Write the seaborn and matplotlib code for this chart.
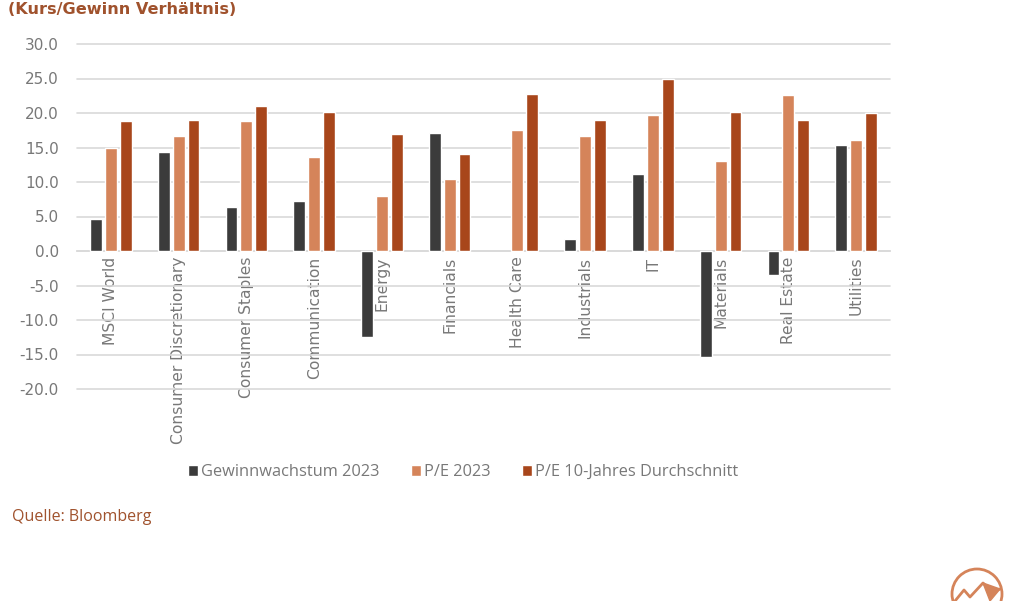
import numpy as np
import pandas as pd
import matplotlib.pyplot as plt
import matplotlib.patches as mpatches
import seaborn as sns

# Daten
sectors = ["MSCI World", "Consumer Discretionary", "Consumer Staples", "Communication",
           "Energy", "Financials", "Health Care", "Industrials", "IT", "Materials",
           "Real Estate", "Utilities"]
growth_2023 = [4.6, 14.4, 6.4, 7.3, -12.5, 17.1, np.nan, 1.8, 11.1, -15.3, -3.5, 15.4]
pe_2023 = [15.0, 16.7, 18.8, 13.6, 8.0, 10.5, 17.5, 16.6, 19.7, 13.0, 22.6, 16.1]
pe_10y = [18.8, 19.0, 21.0, 20.1, 17.0, 14.0, 22.8, 19.0, 25.0, 20.1, 19.0, 20.0]
series_names = ["Gewinnwachstum 2023", "P/E 2023", "P/E 10-Jahres Durchschnitt"]
y_ticks = [-20, -15, -10, -5, 0, 5, 10, 15, 20, 25, 30]

colors = ["#3b3b3b", "#d5845a", "#a8461b"]
brown = "#a0522d"
grey_text = "#787878"

df = pd.DataFrame({
    "sector": sectors * 3,
    "value": growth_2023 + pe_2023 + pe_10y,
    "series": [s for s in series_names for _ in sectors],
})

sns.set_theme(style="white")
# Achsenbeschriftungen in DejaVu (breiter, wie im Original)
plt.rcParams["font.family"] = ["DejaVu Sans"]

W, H = 1016, 601
fig = plt.figure(figsize=(W / 100, H / 100), dpi=100)
ax = fig.add_axes([77 / W, 1 - 389 / H, (890 - 77) / W, (389 - 44) / H])

sns.barplot(data=df, x="sector", y="value", hue="series", hue_order=series_names,
            order=sectors, palette=colors, width=0.66, gap=0.2, saturation=1,
            errorbar=None, ax=ax, legend=True, zorder=3)

ax.set_ylim(-20, 30)
ax.set_xlim(-0.5, len(sectors) - 0.5)
ax.set_yticks(y_ticks)
ax.set_yticklabels([f"{v:.1f}" for v in y_ticks])
for v in y_ticks:
    ax.axhline(v, color="#d9d9d9", linewidth=1.2, zorder=1, clip_on=False)

for s in ["top", "right", "left"]:
    ax.spines[s].set_visible(False)
ax.spines["bottom"].set_position(("data", 0))
ax.spines["bottom"].set_color("#d9d9d9")
ax.spines["bottom"].set_linewidth(1.2)

ax.tick_params(axis="y", length=0, pad=13, labelsize=11, labelcolor=grey_text)
ax.tick_params(axis="x", length=0, pad=4, labelsize=11.2, labelcolor=grey_text,
               labelrotation=90)
ax.set_xlabel("")
ax.set_ylabel("")

# Legende
leg = ax.legend(loc="center", bbox_to_anchor=(463 / W, 1 - 472 / H),
                bbox_transform=fig.transFigure, ncol=3, frameon=False,
                handlelength=0.62, handleheight=0.62, handletextpad=0.2,
                columnspacing=1.9, prop={"family": "Open Sans", "size": 11.8})
for t in leg.get_texts():
    t.set_color(grey_text)

# Titel und Quelle
fig.text(8 / W, 1 - 10 / H, "(Kurs/Gewinn Verhältnis)", fontsize=11.6, fontweight="bold",
         color=brown, ha="left", va="center", family=["DejaVu Sans"])
fig.text(12 / W, 1 - 517 / H, "Quelle: Bloomberg", fontsize=11.5, color=brown,
         ha="left", va="center", family=["Open Sans"])

# Logo unten rechts
def px(x, y):
    return (x / W, 1 - y / H)

logo_col = "#d5845a"
fig.add_artist(mpatches.Ellipse(px(977, 594), 50 / W, 50 / H, fill=False,
                                edgecolor=logo_col, linewidth=2,
                                transform=fig.transFigure))
mx, my = zip(*[px(955, 601), px(964, 590), px(970, 597), px(983, 583),
               px(992, 592), px(1000, 589)])
fig.add_artist(plt.Line2D(mx, my, color=logo_col, linewidth=2,
                          transform=fig.transFigure))
fig.add_artist(mpatches.Polygon([px(983, 583), px(1000, 589), px(990, 601)],
                                closed=True, color=logo_col,
                                transform=fig.transFigure))

fig.savefig("out.png", dpi=100)
